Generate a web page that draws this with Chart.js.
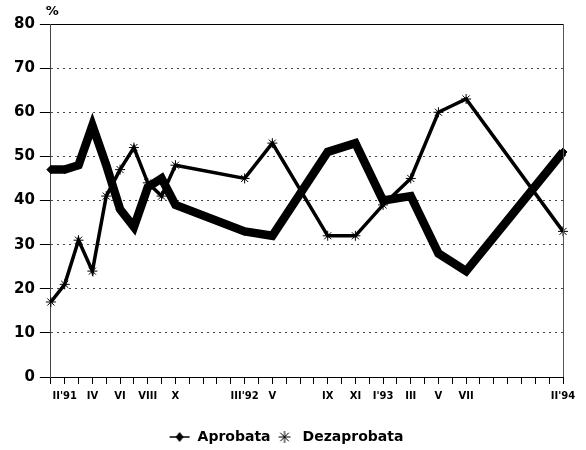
<!DOCTYPE html>
<html>
<head>
<meta charset="utf-8">
<script src="https://cdn.jsdelivr.net/npm/chart.js@4.4.1/dist/chart.umd.min.js"></script>
<style>
  html, body { margin: 0; padding: 0; background: #fff; }
  #wrap { width: 586px; height: 450px; position: relative; }
</style>
</head>
<body>
<div id="wrap"><canvas id="c"></canvas></div>
<script>
// Categories: monthly, I'91 .. II'94
const months = [
  "I'91","II'91","III'91","IV'91","V'91","VI'91","VII'91","VIII'91","IX'91","X'91","XI'91","XII'91",
  "I'92","II'92","III'92","IV'92","V'92","VI'92","VII'92","VIII'92","IX'92","X'92","XI'92","XII'92",
  "I'93","II'93","III'93","IV'93","V'93","VI'93","VII'93","VIII'93","IX'93","X'93","XI'93","XII'93",
  "I'94","II'94"
];
// Tick labels shown under the axis
const tickLabels = [
  "","II'91","","IV","","VI","","VIII","","X","","",
  "","","III'92","","V","","","","IX","","XI","",
  "I'93","","III","","V","","VII","","","","","",
  "","II'94"
];
const aprobata = [
  47,47,48,57,48,38,34,43,45,39,null,null,
  null,null,33,null,32,null,null,null,51,null,53,null,
  40,null,41,null,28,null,24,null,null,null,null,null,
  null,51
];
const dezaprobata = [
  17,21,31,24,41,47,52,44,41,48,null,null,
  null,null,45,null,53,null,null,null,32,null,32,null,
  39,null,45,null,60,null,63,null,null,null,null,null,
  null,33
];
const yTicks = [0,10,20,30,40,50,60,70,80];

function legendIcon(kind) {
  const cv = document.createElement('canvas');
  cv.width = 22; cv.height = 14;
  const g = cv.getContext('2d');
  g.strokeStyle = '#000'; g.fillStyle = '#000';
  if (kind === 'diamond') {
    g.lineWidth = 1.5;
    g.beginPath(); g.moveTo(1, 7); g.lineTo(21, 7); g.stroke();
    g.beginPath(); g.moveTo(11, 2); g.lineTo(15, 7); g.lineTo(11, 12); g.lineTo(7, 7); g.closePath(); g.fill();
  } else {
    g.lineWidth = 1;
    const cx = 11, cy = 7, r = 6;
    for (let k = 0; k < 4; k++) {
      const a = k * Math.PI / 4;
      g.beginPath();
      g.moveTo(cx - r * Math.cos(a), cy - r * Math.sin(a));
      g.lineTo(cx + r * Math.cos(a), cy + r * Math.sin(a));
      g.stroke();
    }
  }
  return cv;
}

const framePlugin = {
  id: 'frame',
  afterDraw(chart) {
    const {ctx, chartArea} = chart;
    ctx.save();
    ctx.strokeStyle = '#555';
    ctx.lineWidth = 1;
    ctx.beginPath();
    ctx.moveTo(Math.round(chartArea.right) + 0.5, chartArea.top);
    ctx.lineTo(Math.round(chartArea.right) + 0.5, chartArea.bottom);
    ctx.stroke();
    ctx.fillStyle = '#000';
    ctx.font = 'bold 13px "DejaVu Sans"';
    ctx.textAlign = 'left';
    ctx.textBaseline = 'middle';
    ctx.fillText('%', chartArea.left - 5, 12);
    ctx.restore();
  }
};

new Chart(document.getElementById('c'), {
  type: 'line',
  data: {
    labels: months,
    datasets: [
      {
        label: 'Aprobata',
        data: aprobata,
        borderColor: '#000',
        backgroundColor: '#000',
        borderWidth: 8.5,
        borderJoinStyle: 'miter',
        pointStyle: 'rectRot',
        pointRadius: 4,
        pointBackgroundColor: '#000',
        pointBorderColor: '#000',
        pointBorderWidth: 1,
        tension: 0,
        spanGaps: true
      },
      {
        label: 'Dezaprobata',
        data: dezaprobata,
        borderColor: '#000',
        backgroundColor: '#000',
        borderWidth: 3.5,
        borderJoinStyle: 'miter',
        pointStyle: 'star',
        pointRadius: 5,
        pointBorderColor: '#000',
        pointBorderWidth: 1,
        tension: 0,
        spanGaps: true
      }
    ]
  },
  options: {
    responsive: true,
    maintainAspectRatio: false,
    animation: false,
    devicePixelRatio: 1,
    layout: { padding: { left: 9, right: 23, top: 24, bottom: -4 } },
    plugins: {
      tooltip: { enabled: false },
      legend: {
        position: 'bottom',
        labels: {
          usePointStyle: true,
          pointStyleWidth: 22,
          padding: 3,
          color: '#000',
          font: { family: 'DejaVu Sans', size: 14, weight: 'bold' },
          generateLabels(chart) {
            const items = Chart.defaults.plugins.legend.labels.generateLabels(chart);
            items.forEach((it, i) => {
              it.pointStyle = legendIcon(i === 0 ? 'diamond' : 'star');
              it.lineWidth = 1;
            });
            return items;
          }
        }
      }
    },
    scales: {
      x: {
        type: 'category',
        offset: false,
        grid: {
          display: true,
          drawOnChartArea: false,
          drawTicks: true,
          tickLength: 7,
          tickColor: '#000',
          color: '#000'
        },
        border: { display: true, color: '#000', width: 1 },
        ticks: {
          autoSkip: false,
          maxRotation: 0,
          minRotation: 0,
          padding: 6,
          color: '#000',
          font: { family: 'DejaVu Sans', size: 10, weight: 'bold' },
          callback: (v, i) => tickLabels[i]
        },
        afterFit(axis) { axis.height += 19; }
      },
      y: {
        min: 0,
        max: 80,
        afterBuildTicks(axis) { axis.ticks = yTicks.map(v => ({ value: v })); },
        grid: {
          color: (c) => (c.tick && c.tick.value === 80) ? '#000' : '#444',
          lineWidth: 1,
          drawTicks: true,
          tickLength: 11,
          tickColor: '#000',
          tickBorderDash: []
        },
        border: {
          display: true,
          color: '#444',
          width: 1,
          dash: (c) => (c.tick && c.tick.value === 80) ? [] : [2, 4]
        },
        ticks: {
          padding: 5,
          color: '#000',
          font: { family: 'DejaVu Sans', size: 15, weight: 'bold' }
        }
      }
    }
  },
  plugins: [framePlugin]
});
</script>
</body>
</html>
